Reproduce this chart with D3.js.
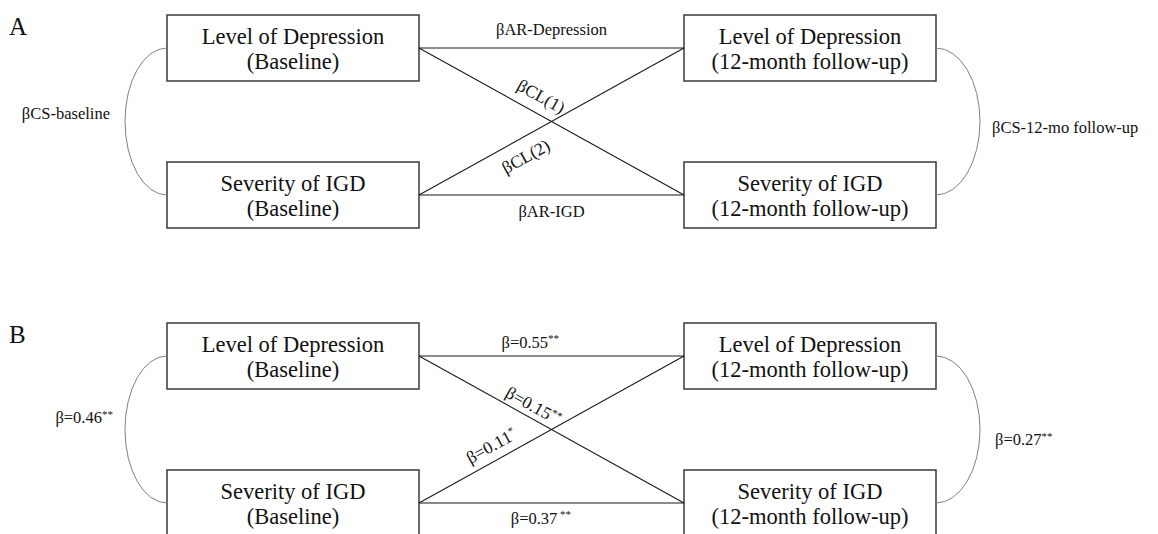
<!DOCTYPE html>
<html>
<head>
<meta charset="utf-8">
<script src="https://cdn.jsdelivr.net/npm/d3@7"></script>
<style>
  html, body { margin: 0; padding: 0; background: #fff; }
  svg { display: block; font-family: "Liberation Serif", "Times New Roman", serif; }
</style>
</head>
<body>
<div id="chart"></div>
<script>
// ---- data ----
const panels = ["A", "B"];
const timepoints = ["Baseline", "12-month follow-up"];
const constructs = ["Level of Depression", "Severity of IGD"];
const pathNames = ["AR-Depression", "AR-IGD", "CL(1)", "CL(2)", "CS-baseline", "CS-12-mo follow-up"];
const pathFrom = [[0, 0], [1, 0], [0, 0], [1, 0], [0, 0], [0, 1]];   // [construct, timepoint]
const pathTo   = [[0, 1], [1, 1], [1, 1], [0, 1], [1, 0], [1, 1]];
const betas = [0.55, 0.37, 0.15, 0.11, 0.46, 0.27];
const stars = ["**", " **", "**", "*", "**", "**"];

// ---- layout ----
const width = 1158, height = 534;
const boxW = 252, boxH = 66;
const x = d3.scaleOrdinal().domain(timepoints).range([167, 684]);
const rowY = d3.scaleOrdinal().domain(constructs).range([0, 147]);
const panelY = d3.scaleOrdinal().domain(panels).range([15, 323]);

// label placement per panel: t along line, perpendicular offset (straight paths)
// or [x, dy from arc middle] for the correlation arcs
const labelLayout = {
  A: [{t: 0.5, off: -19}, {t: 0.5, off: 16}, {t: 0.43, off: -17}, {t: 0.37, off: 18},
      {x: 110, dy: -8}, {x: 992, dy: 6}],
  B: [{t: 0.42, off: -14}, {t: 0.46, off: 15}, {t: 0.41, off: -12}, {t: 0.30, off: -15},
      {x: 113, dy: -12}, {x: 995, dy: 10}]
};

const svg = d3.select("#chart").append("svg")
  .attr("width", width)
  .attr("height", height);

function boxTop(p, c) { return panelY(p) + rowY(constructs[c]); }
function anchor(p, node, side) {
  const c = node[0], tp = node[1];
  const bx = x(timepoints[tp]);
  return [side === "right" ? bx + boxW : bx, boxTop(p, c) + boxH / 2];
}

panels.forEach(function (p) {
  const g = svg.append("g");

  // panel letter
  g.append("text")
    .attr("x", 9)
    .attr("y", panelY(p) + 20)
    .attr("font-size", 25)
    .attr("fill", "#111")
    .text(p);

  // boxes
  constructs.forEach(function (c, ci) {
    timepoints.forEach(function (tp, ti) {
      const bx = x(tp), by = boxTop(p, ci);
      g.append("rect")
        .attr("x", bx).attr("y", by)
        .attr("width", boxW).attr("height", boxH)
        .attr("fill", "#fff")
        .attr("stroke", "#3a3a3a")
        .attr("stroke-width", 1.5);
      const t = g.append("text")
        .attr("text-anchor", "middle")
        .attr("font-size", 22.5)
        .attr("fill", "#111");
      t.append("tspan").attr("x", bx + boxW / 2).attr("y", by + 29).text(c);
      t.append("tspan").attr("x", bx + boxW / 2).attr("y", by + 54).text("(" + tp + ")");
    });
  });

  pathNames.forEach(function (name, i) {
    const lay = labelLayout[p][i];
    const labelText = p === "A" ? "\u03B2" + name : "\u03B2=" + betas[i].toFixed(2);

    if (i < 4) {
      // straight regression path
      const s = anchor(p, pathFrom[i], "right");
      const e = anchor(p, pathTo[i], "left");
      g.append("line")
        .attr("x1", s[0]).attr("y1", s[1])
        .attr("x2", e[0]).attr("y2", e[1])
        .attr("stroke", "#1a1a1a")
        .attr("stroke-width", 1.1);
      const px = s[0] + (e[0] - s[0]) * lay.t;
      const py = s[1] + (e[1] - s[1]) * lay.t;
      const ang = Math.atan2(e[1] - s[1], e[0] - s[0]) * 180 / Math.PI;
      const t = g.append("text")
        .attr("transform", "translate(" + px + "," + py + ") rotate(" + ang + ")")
        .attr("y", lay.off)
        .attr("dominant-baseline", "central")
        .attr("text-anchor", "middle")
        .attr("font-size", i < 2 ? 16.5 : 17.5)
        .attr("fill", "#111")
        .text(labelText);
      if (p === "B") {
        t.append("tspan").attr("font-size", 11).attr("baseline-shift", "40%").text(stars[i]);
      }
    } else {
      // correlation arc (baseline on the left, follow-up on the right)
      const left = i === 4;
      const side = left ? "left" : "right";
      const s = anchor(p, pathFrom[i], side);
      const e = anchor(p, pathTo[i], side);
      const rx = left ? 42 : 44;
      const ry = (e[1] - s[1]) / 2;
      g.append("path")
        .attr("d", "M" + s[0] + "," + s[1] + " A" + rx + "," + ry + " 0 0 " + (left ? 0 : 1) + " " + e[0] + "," + e[1])
        .attr("fill", "none")
        .attr("stroke", "#808080")
        .attr("stroke-width", 1);
      const t = g.append("text")
        .attr("x", lay.x)
        .attr("y", (s[1] + e[1]) / 2 + lay.dy)
        .attr("dominant-baseline", "central")
        .attr("text-anchor", left ? "end" : "start")
        .attr("font-size", 16.5)
        .attr("fill", "#111")
        .text(labelText);
      if (p === "B") {
        t.append("tspan").attr("font-size", 11).attr("baseline-shift", "40%").text(stars[i]);
      }
    }
  });
});
</script>
</body>
</html>
